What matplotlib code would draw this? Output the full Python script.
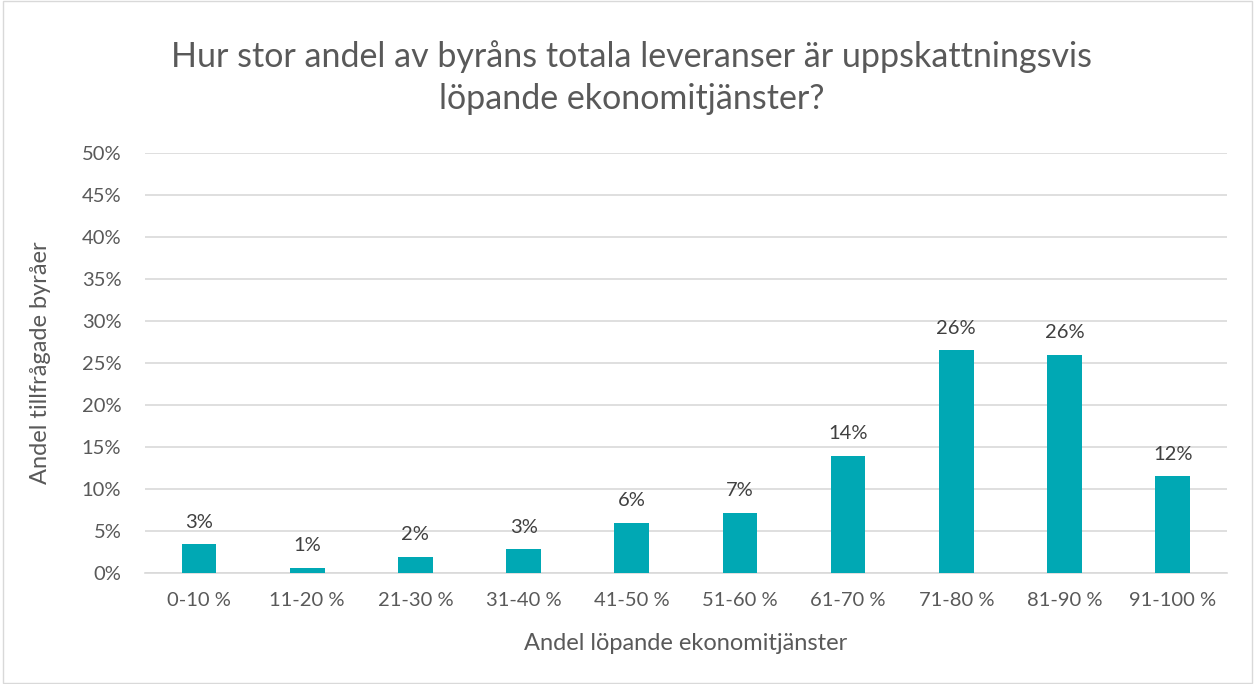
import matplotlib.pyplot as plt
from matplotlib.patches import Rectangle
from matplotlib.ticker import PercentFormatter

plt.rcParams['font.family'] = ['Lato', 'DejaVu Sans']

categories = ['0-10 %', '11-20 %', '21-30 %', '31-40 %', '41-50 %',
              '51-60 %', '61-70 %', '71-80 %', '81-90 %', '91-100 %']
values = [3.4, 0.6, 1.9, 2.8, 6.0, 7.2, 13.9, 26.5, 26.0, 11.5]
labels = ['3%', '1%', '2%', '3%', '6%', '7%', '14%', '26%', '26%', '12%']

title = 'Hur stor andel av byråns totala leveranser är uppskattningsvis\nlöpande ekonomitjänster?'
xlabel = 'Andel löpande ekonomitjänster'
ylabel = 'Andel tillfrågade byråer'

grey = '#595959'
fig = plt.figure(figsize=(12.55, 6.84), dpi=100)
fig.patches.append(Rectangle((0.002, 0.002), 0.996, 0.996, transform=fig.transFigure,
                             fill=False, edgecolor='#D9D9D9', linewidth=1))
ax = fig.add_axes([0.1155, 0.1623, 0.862, 0.614])

x = range(len(categories))
bars = ax.bar(x, values, width=0.32, color='#00A8B4', zorder=3)
for b, lab in zip(bars, labels):
    ax.annotate(lab, (b.get_x() + b.get_width() / 2, b.get_height()),
                xytext=(0, 10), textcoords='offset points', ha='center', va='bottom',
                fontsize=14.5, color='#404040')

ax.set_xlim(-0.5, len(categories) - 0.5)
ax.set_ylim(0, 50)
ax.set_yticks(range(0, 51, 5))
ax.yaxis.set_major_formatter(PercentFormatter(decimals=0))
ax.set_xticks(list(x))
ax.set_xticklabels(categories)
ax.tick_params(axis='both', length=0, labelsize=14.5, labelcolor=grey)
ax.tick_params(axis='x', pad=14)
ax.tick_params(axis='y', pad=17)
ax.grid(axis='y', color='#D9D9D9', linewidth=1.2, zorder=0)
for s in ['top', 'right', 'left']:
    ax.spines[s].set_visible(False)
ax.spines['bottom'].set_color('#D9D9D9')
ax.spines['bottom'].set_linewidth(1.2)

ax.set_xlabel(xlabel, fontsize=17, color=grey, labelpad=17)
ax.set_ylabel(ylabel, fontsize=17, color=grey, labelpad=22)
fig.text(0.503, 0.887, title, ha='center', va='center', fontsize=24.5,
         color=grey, linespacing=1.4)

fig.savefig('out.png', dpi=100)
